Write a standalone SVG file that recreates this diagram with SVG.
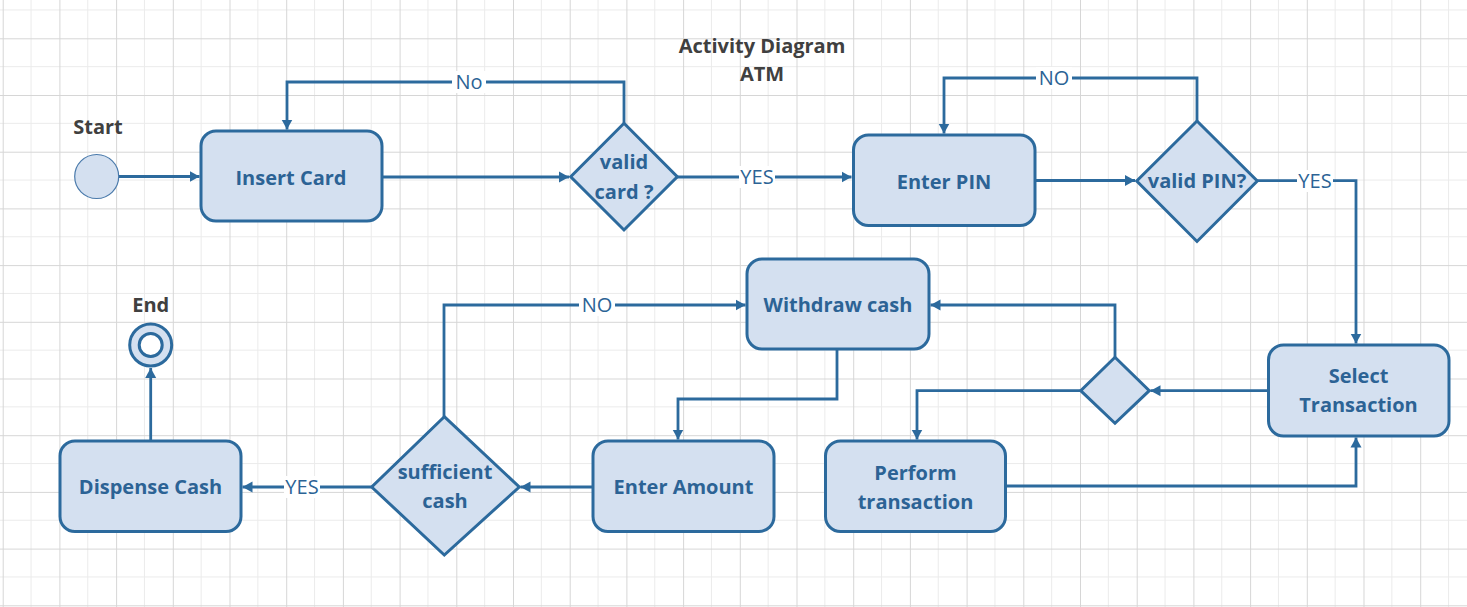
<svg xmlns="http://www.w3.org/2000/svg" width="1467" height="607" viewBox="0 0 1467 607">
<defs>
<pattern id="grid" patternUnits="userSpaceOnUse" x="2.7" y="38.3" width="56.7" height="56.7">
<path d="M28.35,0 V56.7 M0,28.35 H56.7" stroke="#ebebeb" stroke-width="1" fill="none"/>
<path d="M0.5,0 V56.7 M0,0.5 H56.7" stroke="#d6d6d6" stroke-width="1" fill="none"/>
</pattern>
<marker id="arr" markerUnits="userSpaceOnUse" markerWidth="12" markerHeight="12" refX="10" refY="6" orient="auto">
<path d="M0,0.5 L10,6 L0,11.5 z" fill="#2c6a9d"/>
</marker>
<style>
.node{fill:#d4e0f0;stroke:#2c6a9d;stroke-width:3}
.t{font-family:"Open Sans","Noto Sans",sans-serif;font-weight:bold;font-size:20px;fill:#2c6395;text-anchor:middle}
.h{font-family:"Open Sans","Noto Sans",sans-serif;font-weight:bold;font-size:20px;fill:#404040;text-anchor:middle}
.c{fill:none;stroke:#2c6a9d;stroke-width:2.8;marker-end:url(#arr)}
.lb{fill:#ffffff}
.l{font-family:"Open Sans","Noto Sans",sans-serif;font-size:20px;fill:#2c6395;text-anchor:middle}
</style>
</defs>
<rect x="0" y="0" width="1467" height="607" fill="#ffffff"/>
<rect x="0" y="0" width="1467" height="607" fill="url(#grid)"/>

<g id="title">
<text class="h" x="762" y="53">Activity Diagram</text>
<text class="h" x="762" y="81">ATM</text>
</g>

<g id="connectors">
<path class="c" d="M119,176.5 H199.5"/>
<path class="c" d="M382,177 H569"/>
<path class="c" d="M624,123 V82 H287 V129.5"/>
<path class="c" d="M677,177 H851.5"/>
<path class="c" d="M1035,180.5 H1135"/>
<path class="c" d="M1197,121 V78 H944 V133.5"/>
<path class="c" d="M1257,180.7 H1356 V343.5"/>
<path class="c" d="M1268,390.7 H1150.5"/>
<path class="c" d="M1115,357 V305 H930.5"/>
<path class="c" d="M1081,390.7 H917 V439.5"/>
<path class="c" d="M1005,486 H1356 V437.5"/>
<path class="c" d="M837,349 V399 H678 V439.5"/>
<path class="c" d="M593,487 H520.5"/>
<path class="c" d="M444,417 V305 H745.5"/>
<path class="c" d="M371.7,487 H242.5"/>
<path class="c" d="M150.7,441 V368"/>
<rect class="lb" x="452" y="71" width="34" height="22"/>
<text class="l" x="469" y="89">No</text>
<rect class="lb" x="739" y="166" width="36" height="22"/>
<text class="l" x="757" y="184">YES</text>
<rect class="lb" x="1036" y="67" width="36" height="22"/>
<text class="l" x="1054" y="85">NO</text>
<rect class="lb" x="1297" y="170" width="36" height="22"/>
<text class="l" x="1315" y="188">YES</text>
<rect class="lb" x="579" y="294" width="36" height="22"/>
<text class="l" x="597" y="312">NO</text>
<rect class="lb" x="284" y="476" width="36" height="22"/>
<text class="l" x="302" y="494">YES</text>
</g>

<g id="start">
<text class="h" x="98" y="134">Start</text>
<circle cx="96.7" cy="176.5" r="22" fill="#d4e0f0" stroke="#4a7aab" stroke-width="1.2"/>
</g>

<g id="insert-card">
<rect class="node" x="201" y="131" width="181" height="90" rx="15"/>
<text class="t" x="291" y="185">Insert Card</text>
</g>

<g id="valid-card">
<path class="node" d="M624,123.3 L677.3,176.7 L624,230 L570.7,176.7 z"/>
<text class="t" x="624" y="169">valid</text>
<text class="t" x="624" y="199">card ?</text>
</g>

<g id="enter-pin">
<rect class="node" x="853.5" y="135" width="181.5" height="90.5" rx="15"/>
<text class="t" x="944" y="189">Enter PIN</text>
</g>

<g id="valid-pin">
<path class="node" d="M1197,121 L1257.3,181 L1197,241.5 L1136.7,181 z"/>
<text class="t" x="1197" y="188">valid PIN?</text>
</g>

<g id="select-transaction">
<rect class="node" x="1268.5" y="345" width="180.5" height="91" rx="15"/>
<text class="t" x="1358.5" y="383">Select</text>
<text class="t" x="1358.5" y="412">Transaction</text>
</g>

<g id="decision">
<path class="node" d="M1115,357.3 L1149.3,390.7 L1115,423.3 L1080.7,390.7 z"/>
</g>

<g id="withdraw-cash">
<rect class="node" x="747" y="259" width="182" height="90" rx="15"/>
<text class="t" x="838" y="312">Withdraw cash</text>
</g>

<g id="perform-transaction">
<rect class="node" x="825.5" y="441" width="180" height="90.5" rx="15"/>
<text class="t" x="915.5" y="480">Perform</text>
<text class="t" x="915.5" y="509">transaction</text>
</g>

<g id="enter-amount">
<rect class="node" x="593" y="441" width="181" height="90.5" rx="15"/>
<text class="t" x="683.5" y="494">Enter Amount</text>
</g>

<g id="sufficient-cash">
<path class="node" d="M444.3,416.7 L519.3,487 L444.3,555 L371.7,487 z"/>
<text class="t" x="445" y="479">sufficient</text>
<text class="t" x="445" y="508">cash</text>
</g>

<g id="dispense-cash">
<rect class="node" x="60" y="441" width="181" height="90.5" rx="15"/>
<text class="t" x="150.5" y="494">Dispense Cash</text>
</g>

<g id="end">
<text class="h" x="150.7" y="312">End</text>
<circle cx="150.7" cy="345" r="21" fill="#d4e0f0" stroke="#2c6a9d" stroke-width="3"/>
<circle cx="150.7" cy="345" r="11.5" fill="#ffffff" stroke="#2c6a9d" stroke-width="3"/>
</g>
</svg>
